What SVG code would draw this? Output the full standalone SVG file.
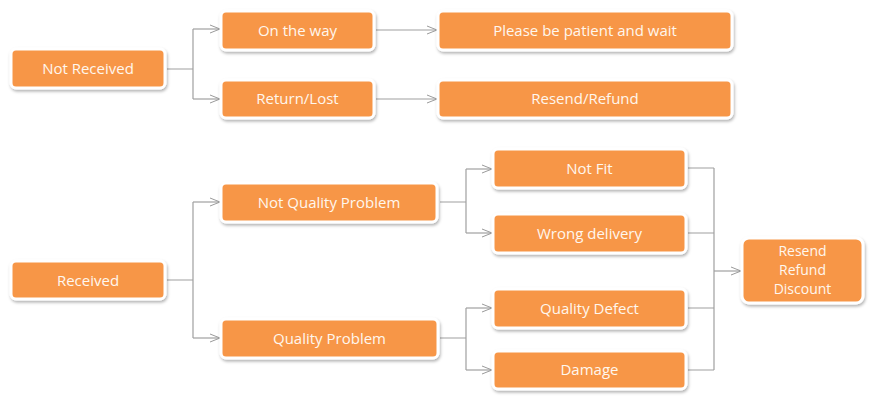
<svg xmlns="http://www.w3.org/2000/svg" width="880" height="408" viewBox="0 0 880 408">
<defs>
<filter id="sh" x="-10%" y="-30%" width="120%" height="170%">
<feDropShadow dx="1" dy="2" stdDeviation="1.6" flood-color="#000" flood-opacity="0.3"/>
</filter>
<marker id="ar" markerWidth="12" markerHeight="10" refX="10" refY="5" orient="auto" markerUnits="userSpaceOnUse">
<path d="M0,1 L10,5 L0,9" fill="none" stroke="#9a9a9a" stroke-width="1"/>
</marker>
<style>
.b{fill:#F79646;stroke:#fff;stroke-width:3;filter:url(#sh)}
.t{font-family:"Open Sans","Noto Sans",sans-serif;font-size:15px;fill:#fff7ee;text-anchor:middle}
.s{font-size:14px}
.c{fill:none;stroke:#a0a0a0;stroke-width:1.2}
</style>
</defs>
<rect width="880" height="408" fill="#fff"/>
<g id="connectors">
<path class="c" d="M167,69 H193 M193,29 V99"/>
<path class="c" d="M193,29 H220" marker-end="url(#ar)"/>
<path class="c" d="M193,99 H220" marker-end="url(#ar)"/>
<path class="c" d="M376,30 H437" marker-end="url(#ar)"/>
<path class="c" d="M376,99 H437" marker-end="url(#ar)"/>
<path class="c" d="M167,280 H193 M193,202 V338"/>
<path class="c" d="M193,202 H220" marker-end="url(#ar)"/>
<path class="c" d="M193,338 H220" marker-end="url(#ar)"/>
<path class="c" d="M440,202 H466 M466,169 V233"/>
<path class="c" d="M466,169 H492" marker-end="url(#ar)"/>
<path class="c" d="M466,233 H492" marker-end="url(#ar)"/>
<path class="c" d="M440,338 H466 M466,308 V370"/>
<path class="c" d="M466,308 H492" marker-end="url(#ar)"/>
<path class="c" d="M466,370 H492" marker-end="url(#ar)"/>
<path class="c" d="M688,168 H714 M688,233 H714 M688,308 H714 M688,370 H714 M714,168 V370"/>
<path class="c" d="M714,271 H741" marker-end="url(#ar)"/>
</g>
<g id="n-not-received"><rect class="b" x="11" y="49" width="154" height="39" rx="5"/><text class="t" x="88" y="74">Not Received</text></g>
<g id="n-on-the-way"><rect class="b" x="221" y="11" width="153" height="39" rx="5"/><text class="t" x="297.5" y="35.5">On the way</text></g>
<g id="n-return-lost"><rect class="b" x="221" y="80" width="153" height="38" rx="5"/><text class="t" x="297.5" y="104">Return/Lost</text></g>
<g id="n-please-wait"><rect class="b" x="438" y="11" width="294" height="39" rx="5"/><text class="t" x="585" y="35.5">Please be patient and wait</text></g>
<g id="n-resend-refund"><rect class="b" x="438" y="80" width="294" height="38" rx="5"/><text class="t" x="585" y="104">Resend/Refund</text></g>
<g id="n-received"><rect class="b" x="11" y="261" width="154" height="38" rx="5"/><text class="t" x="88" y="285.5">Received</text></g>
<g id="n-not-quality"><rect class="b" x="221" y="183" width="216" height="39" rx="5"/><text class="t" x="329" y="207.5">Not Quality Problem</text></g>
<g id="n-quality"><rect class="b" x="221" y="319" width="217" height="39" rx="5"/><text class="t" x="329.5" y="343.5">Quality Problem</text></g>
<g id="n-not-fit"><rect class="b" x="493" y="149" width="193" height="39" rx="5"/><text class="t" x="589.5" y="173.5">Not Fit</text></g>
<g id="n-wrong-delivery"><rect class="b" x="493" y="214" width="193" height="39" rx="5"/><text class="t" x="589.5" y="238.5">Wrong delivery</text></g>
<g id="n-quality-defect"><rect class="b" x="493" y="289" width="193" height="39" rx="5"/><text class="t" x="589.5" y="313.5">Quality Defect</text></g>
<g id="n-damage"><rect class="b" x="493" y="351" width="193" height="38" rx="5"/><text class="t" x="589.5" y="375">Damage</text></g>
<g id="n-resend-refund-discount"><rect class="b" x="742" y="238" width="121" height="65" rx="7"/><text class="t s" x="802.5" y="255.5">Resend</text><text class="t s" x="802.5" y="274.8">Refund</text><text class="t s" x="802.5" y="294.1">Discount</text></g>
</svg>
